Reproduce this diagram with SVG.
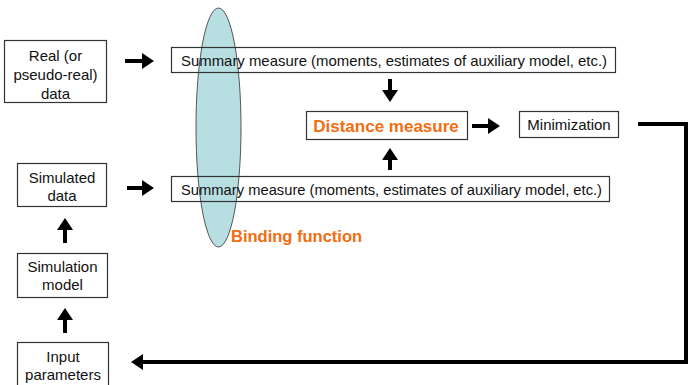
<svg xmlns="http://www.w3.org/2000/svg" width="690" height="385" viewBox="0 0 690 385">
<style>
.box{fill:none;stroke:#333;stroke-width:1.2}
.t{font-family:"Liberation Sans",Arial,sans-serif;font-size:15px;fill:#111;text-anchor:middle}
.s{font-family:"Liberation Sans",Arial,sans-serif;font-size:15px;fill:#111}
.o{font-family:"Liberation Sans",Arial,sans-serif;font-size:16.5px;font-weight:bold;fill:#f26d10}
.ln{stroke:#000;stroke-width:4;fill:none}
</style>
<defs>
<marker id="ah" markerWidth="4" markerHeight="4" refX="1" refY="2" orient="auto" markerUnits="strokeWidth">
<path d="M0,0 L3,2 L0,4 Z" fill="#000"/>
</marker>
</defs>
<rect width="690" height="385" fill="#fff"/>
<g id="binding">
<ellipse cx="218.5" cy="127.5" rx="22.5" ry="119.5" fill="#b7dfe2" stroke="#555" stroke-width="1"/>
<text class="o" x="231" y="241.5">Binding function</text>
</g>
<g id="real">
<rect class="box" x="4.5" y="40.5" width="102" height="62"/>
<text class="t" x="55.5" y="60.5">Real (or</text>
<text class="t" x="55.5" y="79.5">pseudo-real)</text>
<text class="t" x="55.5" y="98.5">data</text>
</g>
<g id="summary1">
<rect class="box" x="171.5" y="47.5" width="444" height="25"/>
<text class="s" x="181" y="65.5" textLength="426" lengthAdjust="spacingAndGlyphs">Summary measure (moments, estimates of auxiliary model, etc.)</text>
</g>
<g id="distance">
<rect class="box" x="306.5" y="111.5" width="161" height="28"/>
<text class="o" x="386" y="131.5" text-anchor="middle" style="font-size:17px">Distance measure</text>
</g>
<g id="minimization">
<rect class="box" x="519.5" y="111.5" width="99" height="26"/>
<text class="t" x="569" y="130">Minimization</text>
</g>
<g id="summary2">
<rect class="box" x="171.5" y="176.5" width="438" height="25"/>
<text class="s" x="181" y="194.5" textLength="421" lengthAdjust="spacingAndGlyphs">Summary measure (moments, estimates of auxiliary model, etc.)</text>
</g>
<g id="simulated">
<rect class="box" x="17.5" y="163.5" width="89" height="43"/>
<text class="t" x="62" y="182.5">Simulated</text>
<text class="t" x="62" y="200.5">data</text>
</g>
<g id="model">
<rect class="box" x="17.5" y="253.5" width="90" height="44"/>
<text class="t" x="62.5" y="271.5">Simulation</text>
<text class="t" x="62.5" y="289.5">model</text>
</g>
<g id="input">
<rect class="box" x="17.5" y="342.5" width="91" height="45"/>
<text class="t" x="63" y="361.5">Input</text>
<text class="t" x="63" y="379.5">parameters</text>
</g>
<g id="connectors">
<line class="ln" x1="125" y1="61" x2="146" y2="61" marker-end="url(#ah)"/>
<line class="ln" x1="127" y1="188" x2="146" y2="188" marker-end="url(#ah)"/>
<line class="ln" x1="390" y1="79" x2="390" y2="94" marker-end="url(#ah)"/>
<line class="ln" x1="390" y1="170" x2="390" y2="156" marker-end="url(#ah)"/>
<line class="ln" x1="472" y1="126" x2="492" y2="126" marker-end="url(#ah)"/>
<line class="ln" x1="65" y1="243" x2="65" y2="226" marker-end="url(#ah)"/>
<line class="ln" x1="65" y1="333" x2="65" y2="316" marker-end="url(#ah)"/>
<polyline class="ln" points="638,124 686,124 686,362 139,362" marker-end="url(#ah)"/>
</g>
</svg>
